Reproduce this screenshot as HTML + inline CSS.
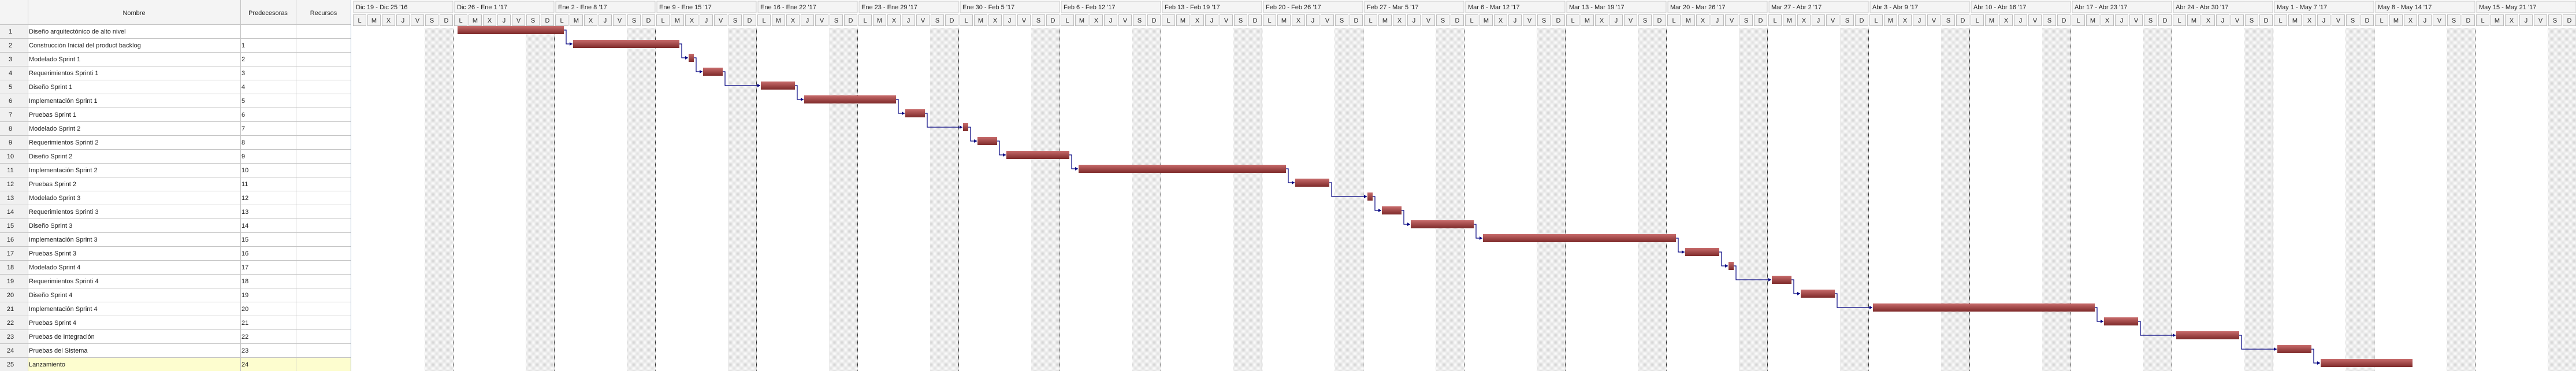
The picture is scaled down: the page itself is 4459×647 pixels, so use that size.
<!DOCTYPE html>
<html><head><meta charset="utf-8">
<style>
html,body{margin:0;padding:0;background:#fff;}
body{width:4459px;height:642px;overflow:hidden;font-family:"Liberation Sans",Arial,sans-serif;}
svg text{font-family:"Liberation Sans",Arial,sans-serif;}
</style></head>
<body>
<svg id="g" width="4459" height="642" xmlns="http://www.w3.org/2000/svg">
<defs>
<linearGradient id="barGrad" x1="0" y1="0" x2="0" y2="1">
<stop offset="0" stop-color="#c86c6c"/><stop offset="1" stop-color="#7e2a2a"/>
</linearGradient>
<pattern id="dots" width="2" height="2" patternUnits="userSpaceOnUse">
<rect width="2" height="2" fill="#fbfbfb"/><rect width="1" height="1" fill="#d6d6d6"/><rect x="1" y="1" width="1" height="1" fill="#e2e2e2"/>
</pattern>
<marker id="arr" markerWidth="6" markerHeight="6" refX="5" refY="3" orient="auto" markerUnits="userSpaceOnUse">
<path d="M0,0 L5,3 L0,6 z" fill="#000080"/>
</marker>
</defs>
</svg>
<script>
const taskNames = ["Diseño arquitectónico de alto nivel","Construcción Inicial del product backlog","Modelado Sprint 1","Requerimientos Sprinti 1","Diseño Sprint 1","Implementación Sprint 1","Pruebas Sprint 1","Modelado Sprint 2","Requerimientos Sprinti 2","Diseño Sprint 2","Implementación Sprint 2","Pruebas Sprint 2","Modelado Sprint 3","Requerimientos Sprinti 3","Diseño Sprint 3","Implementación Sprint 3","Pruebas Sprint 3","Modelado Sprint 4","Requerimientos Sprinti 4","Diseño Sprint 4","Implementación Sprint 4","Pruebas Sprint 4","Pruebas de Integración","Pruebas del Sistema","Lanzamiento"];
const predecessors = ["","1","2","3","4","5","6","7","8","9","10","11","12","13","14","15","16","17","18","19","20","21","22","23","24"];
const startDay = [7,15,23,24,28,31,38,42,43,45,50,65,70,71,73,78,92,95,98,100,105,121,126,133,136];
const endDay   = [14,22,23,25,30,37,39,42,44,49,64,67,70,72,77,91,94,95,99,102,120,123,130,135,142];
const weekLabels = ["Dic 19 - Dic 25 '16","Dic 26 - Ene 1 '17","Ene 2 - Ene 8 '17","Ene 9 - Ene 15 '17","Ene 16 - Ene 22 '17","Ene 23 - Ene 29 '17","Ene 30 - Feb 5 '17","Feb 6 - Feb 12 '17","Feb 13 - Feb 19 '17","Feb 20 - Feb 26 '17","Feb 27 - Mar 5 '17","Mar 6 - Mar 12 '17","Mar 13 - Mar 19 '17","Mar 20 - Mar 26 '17","Mar 27 - Abr 2 '17","Abr 3 - Abr 9 '17","Abr 10 - Abr 16 '17","Abr 17 - Abr 23 '17","Abr 24 - Abr 30 '17","May 1 - May 7 '17","May 8 - May 14 '17","May 15 - May 21 '17"];
const dayLetters = ["L","M","X","J","V","S","D"];

const NS="http://www.w3.org/2000/svg";
const svg=document.getElementById('g');
function mk(tag,attrs,parent){const e=document.createElementNS(NS,tag);for(const k in attrs)e.setAttribute(k,attrs[k]);(parent||svg).appendChild(e);return e;}
const X0=610, DW=25, HEAD=42, RH=24;
const xDay=d=>X0+d*DW;
const yRow=i=>HEAD+i*RH;

// ---- table ----
const tbl=mk('g',{});


mk('rect',{x:0,y:0,width:608,height:HEAD,fill:'#f4f4f4'},tbl);
mk('rect',{x:0,y:HEAD,width:48,height:642-HEAD,fill:'#f0f0f0'},tbl);
const cols=[[48,416,'Nombre'],[416,512,'Predecesoras'],[512,608,'Recursos']];
cols.forEach(c=>{
  const t=mk('text',{x:(c[0]+c[1])/2,y:26,'font-size':11,'text-anchor':'middle',fill:'#222'},tbl);
  t.textContent=c[2];
  
  
});
taskNames.forEach((n,i)=>{
  const y=yRow(i);
  if(i===taskNames.length-1) mk('rect',{x:48,y:y,width:560,height:RH,fill:'#fdfdcf'},tbl);
  const row=mk('g',{},tbl);
  
  
  const a=mk('text',{x:18,y:y+16,'font-size':11,'text-anchor':'middle',fill:'#222'},row);a.textContent=String(i+1);
  const b=mk('text',{x:50,y:y+16,'font-size':11,fill:'#222'},row);b.textContent=n;
  const c=mk('text',{x:418,y:y+16,'font-size':11,fill:'#222'},row);c.textContent=predecessors[i];
});
for(let i=0;i<=taskNames.length;i++){mk('line',{x1:0,x2:608,y1:yRow(i)+0.5,y2:yRow(i)+0.5,stroke:'#c4c4c4'},tbl);}
[48,416,512].forEach(x=>mk('line',{x1:x+0.5,x2:x+0.5,y1:0,y2:642,stroke:'#c4c4c4'},tbl));
mk('line',{x1:607.5,x2:607.5,y1:0,y2:642,stroke:'#8fa8c8'},tbl);

// ---- timeline header & grid ----
const grid=mk('g',{});


mk('rect',{x:608,y:0,width:4459-608,height:HEAD+4,fill:'#fff'},grid);
weekLabels.forEach((w,k)=>{
  const wx=xDay(k*7);
  mk('rect',{x:xDay(k*7+5),y:48,width:2*DW,height:642-48,fill:'url(#dots)'},grid);
  mk('line',{x1:xDay(k*7+7)-0.5,x2:xDay(k*7+7)-0.5,y1:48,y2:642,stroke:'#222','stroke-dasharray':'1,1'},grid);
  const wb=mk('rect',{x:wx+2,y:2,width:7*DW-3,height:20,fill:'#f4f4f4',stroke:'#c8c8c8'},grid);
  
  
  const t=mk('text',{x:wx+6,y:16,'font-size':11,fill:'#222'},grid);t.textContent=w;
  for(let d=0;d<7;d++){
    const dx=xDay(k*7+d);
    mk('rect',{x:dx+1.5,y:25.5,width:DW-3,height:19,fill:'#f2f2f2',stroke:'#bdbdbd'},grid);
    const dt=mk('text',{x:dx+DW/2,y:39,'font-size':11,'text-anchor':'middle',fill:'#222'},grid);dt.textContent=dayLetters[d];
  }
});

// ---- dependency links ----
const links=mk('g',{});


const bx0=i=>X0+(startDay[i]+0.28)*DW;
const bx1=i=>X0+(endDay[i]+0.64)*DW;
const by=i=>yRow(i)+3;
for(let i=1;i<startDay.length;i++){
  const p=parseInt(predecessors[i],10)-1;
  const xs=bx1(p), ys=by(p)+7, xe=bx0(i), ye=by(i)+7;
  const l=mk('path',{d:`M${xs},${ys} H${xs+4} V${ye} H${xe-1}`,fill:'none',stroke:'#000080','stroke-width':1.2,'marker-end':'url(#arr)'},links);
  
  
}

// ---- bars ----
const bars=mk('g',{});


startDay.forEach((s,i)=>{
  const r=mk('rect',{x:bx0(i),y:by(i),width:bx1(i)-bx0(i),height:14,fill:'url(#barGrad)'},bars);
  
  
});
</script>
</body></html>
